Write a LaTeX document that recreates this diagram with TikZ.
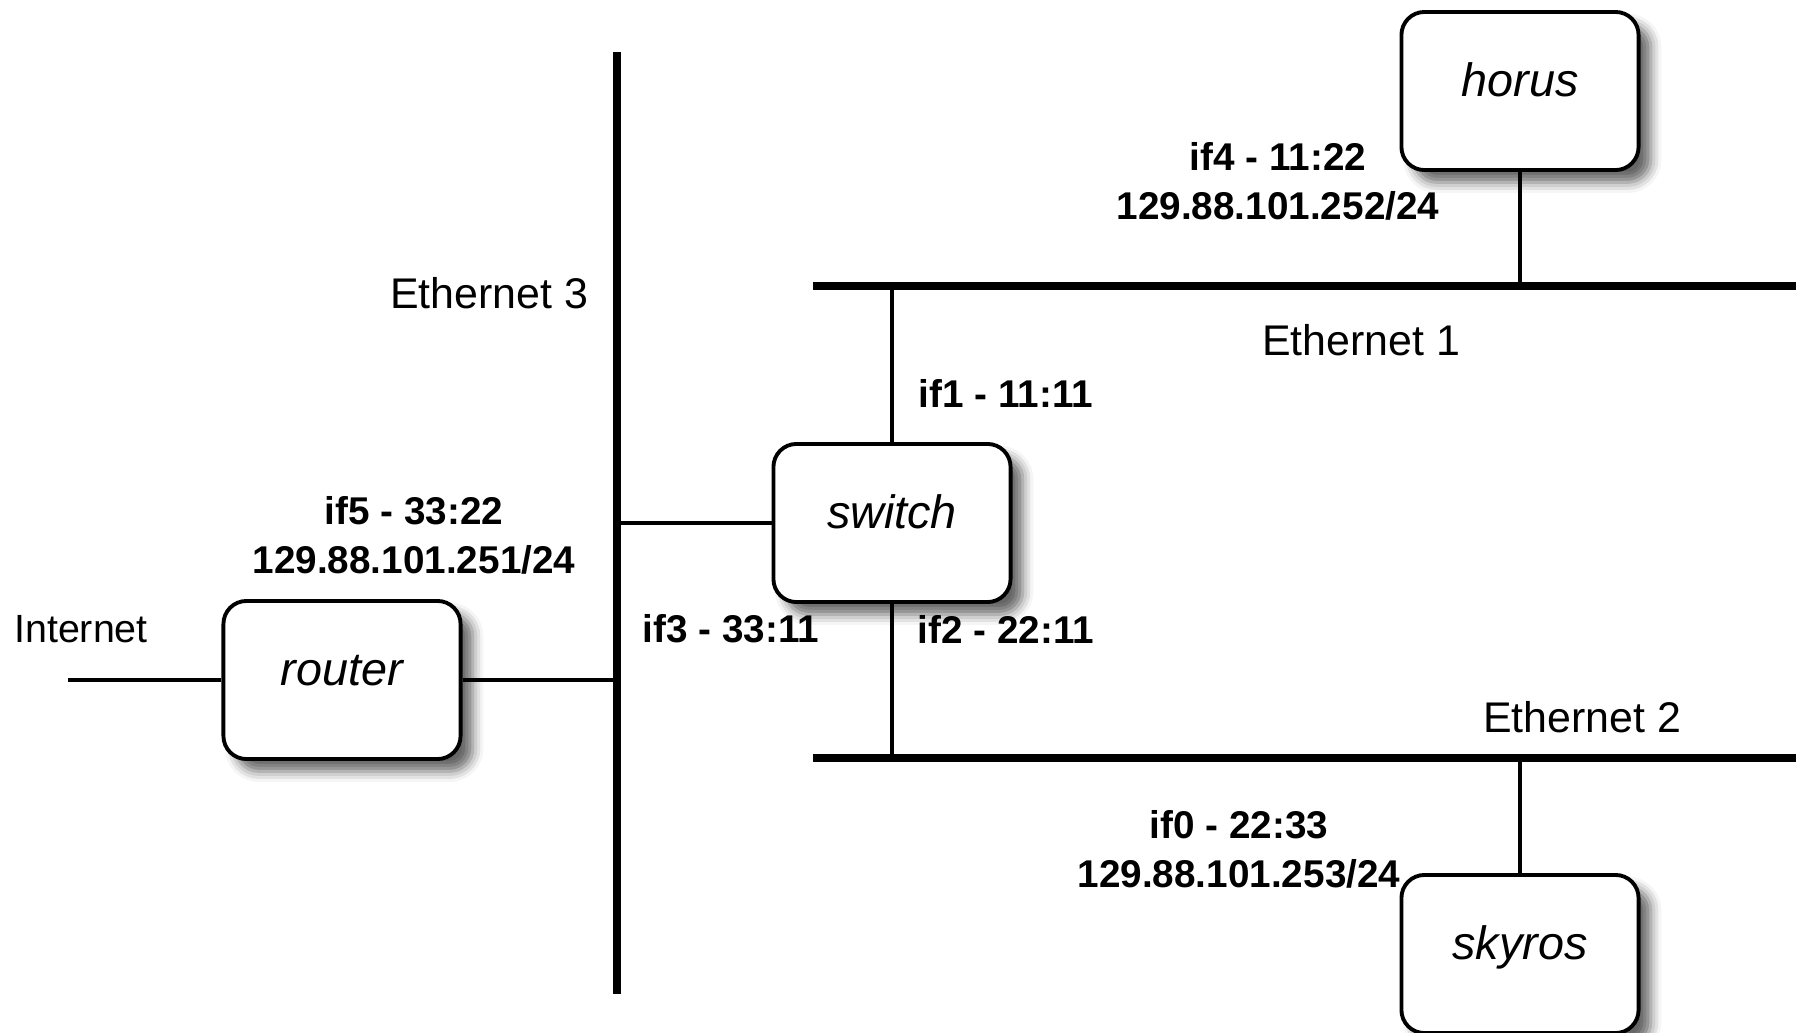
\documentclass[tikz,border=0pt]{standalone}
\usepackage{fontspec}
\setmainfont{Liberation Sans}
\usetikzlibrary{shadows.blur}

\begin{document}
\begin{tikzpicture}[x=0.01cm, y=-0.01cm,
    host/.style={draw, line width=1.1pt, rounded corners=0.23cm, fill=white,
      minimum width=2.37cm, minimum height=1.58cm, text height=10pt, text depth=6.6pt,
      font=\fontsize{13.3}{16}\selectfont\itshape,
      blur shadow={shadow xshift=3.5pt, shadow yshift=-3.5pt, shadow blur radius=3pt, shadow opacity=60}},
    bus/.style={line width=2.3pt},
    link/.style={line width=1pt},
    iflabel/.style={font=\fontsize{11}{13.9}\selectfont\bfseries, align=center, inner sep=0pt},
    netlabel/.style={font=\fontsize{12.2}{14}\selectfont, inner sep=0pt}]
    \useasboundingbox (0,0) rectangle (1796,1033);

    % Ethernet segments
    \coordinate (e3n) at (617,52);
    \coordinate (e3s) at (617,994);
    \coordinate (e1w) at (813,286);
    \coordinate (e1e) at (1796,286);
    \coordinate (e2w) at (813,758);
    \coordinate (e2e) at (1796,758);
    \draw[bus] (e3n) -- (e3s);
    \draw[bus] (e1w) -- (e1e);
    \draw[bus] (e2w) -- (e2e);

    % Hosts
    \node[host] (horus) at (1520,91) {horus};
    \node[host] (switch) at (892,523) {switch};
    \node[host] (router) at (342,680) {router};
    \node[host] (skyros) at (1520,954) {skyros};

    % Links
    \coordinate (inet) at (68,680);
    \draw[link] (inet) -- (router.west);
    \draw[link] (router.east) -- (router.east -| e3n);
    \draw[link] (switch.west) -- (switch.west -| e3n);
    \draw[link] (switch.north) -- (switch.north |- e1w);
    \draw[link] (switch.south) -- (switch.south |- e2w);
    \draw[link] (horus.south) -- (horus.south |- e1w);
    \draw[link] (skyros.north) -- (skyros.north |- e2w);

    % Network names
    \node[netlabel] (eth3) at (489,293) {Ethernet 3};
    \node[netlabel] (eth1) at (1361,340) {Ethernet 1};
    \node[netlabel] (eth2) at (1582,717) {Ethernet 2};
    \node[netlabel, font=\fontsize{11.2}{13}\selectfont] (internet) at (81,629) {Internet};

    % Interfaces
    \node[iflabel] (if1) at (1006,393) {if1 - 11:11};
    \node[iflabel] (if2) at (1006,629) {if2 - 22:11};
    \node[iflabel] (if3) at (731,629) {if3 - 33:11};
    \node[iflabel] (if4) at (1278,181.5) {if4 - 11:22\\129.88.101.252/24};
    \node[iflabel] (if5) at (414,535) {if5 - 33:22\\129.88.101.251/24};
    \node[iflabel] (if0) at (1239,849) {if0 - 22:33\\129.88.101.253/24};
\end{tikzpicture}
\end{document}
